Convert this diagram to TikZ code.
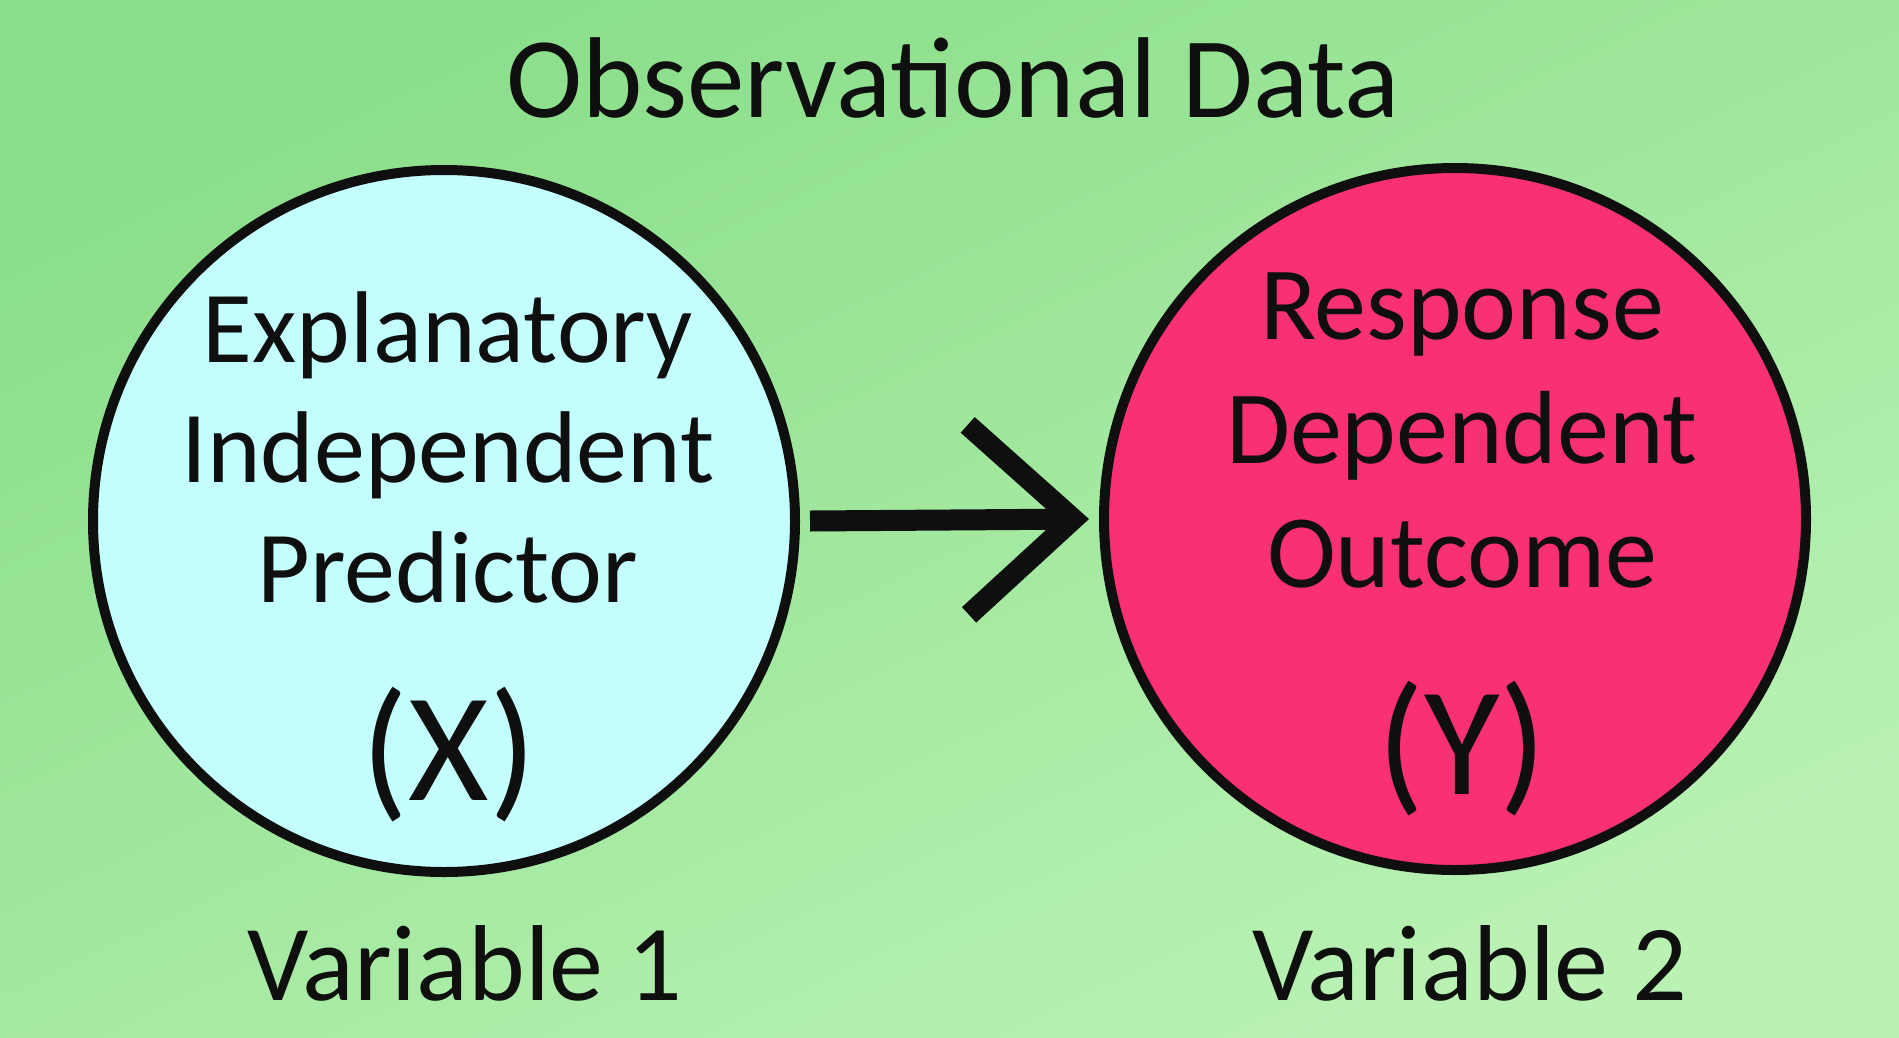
\documentclass[tikz,border=0pt]{standalone}
\usepackage{fontspec}
\setmainfont{Carlito}
\usetikzlibrary{arrows.meta}
\definecolor{bgtop}{RGB}{138,222,138}
\definecolor{bgbot}{RGB}{186,242,180}
\definecolor{xfill}{RGB}{195,255,255}
\definecolor{yfill}{RGB}{250,48,118}
\definecolor{ink}{RGB}{15,15,15}
\begin{document}
\begin{tikzpicture}[x=1pt,y=-1pt,
  varcircle/.style={circle,draw=ink,line width=10pt,minimum size=702pt,inner sep=0pt},
  inner/.style={anchor=base,text=ink,inner sep=0pt},
  big/.style={anchor=base,text=ink,font=\fontsize{155}{160}\selectfont,inner sep=0pt},
  label/.style={anchor=base,text=ink,font=\fontsize{108}{110}\selectfont,inner sep=0pt},
  title/.style={anchor=base,text=ink,font=\fontsize{115}{115}\selectfont,inner sep=0pt}]
\useasboundingbox (0,0) rectangle (1899,1037);
\shade[top color=bgtop,bottom color=bgbot,shading angle=25] (0,0) rectangle (1899,1037);
\node[title] (t) at (953,117) {Observational Data};
\node[varcircle,fill=xfill] (X) at (444,521) {};
\node[varcircle,fill=yfill] (Y) at (1455,519) {};
\begin{scope}[every node/.append style={font=\fontsize{102}{105}\selectfont}]
\node[inner] (x1) at (448,362) {Explanatory};
\node[inner] (x2) at (448,482) {Independent};
\node[inner] (x3) at (448,602) {Predictor};
\end{scope}
\node[big] (x4) at (449,800) {(X)};
\begin{scope}[every node/.append style={font=\fontsize{104}{105}\selectfont}]
\node[inner] (y1) at (1462,339) {Response};
\node[inner] (y2) at (1462,463) {Dependent};
\node[inner] (y3) at (1462,587) {Outcome};
\end{scope}
\node[big] (y4) at (1462,794) {(Y)};
\node[label] (v1) at (465,1000) {Variable 1};
\node[label] (v2) at (1470,1000) {Variable 2};
\draw[ink,line width=21pt,-{Straight Barb[length=105pt,width=190pt,line width=21pt]}]
  ([xshift=10pt]X.east) -- ([xshift=-10pt]Y.west);
\end{tikzpicture}
\end{document}
